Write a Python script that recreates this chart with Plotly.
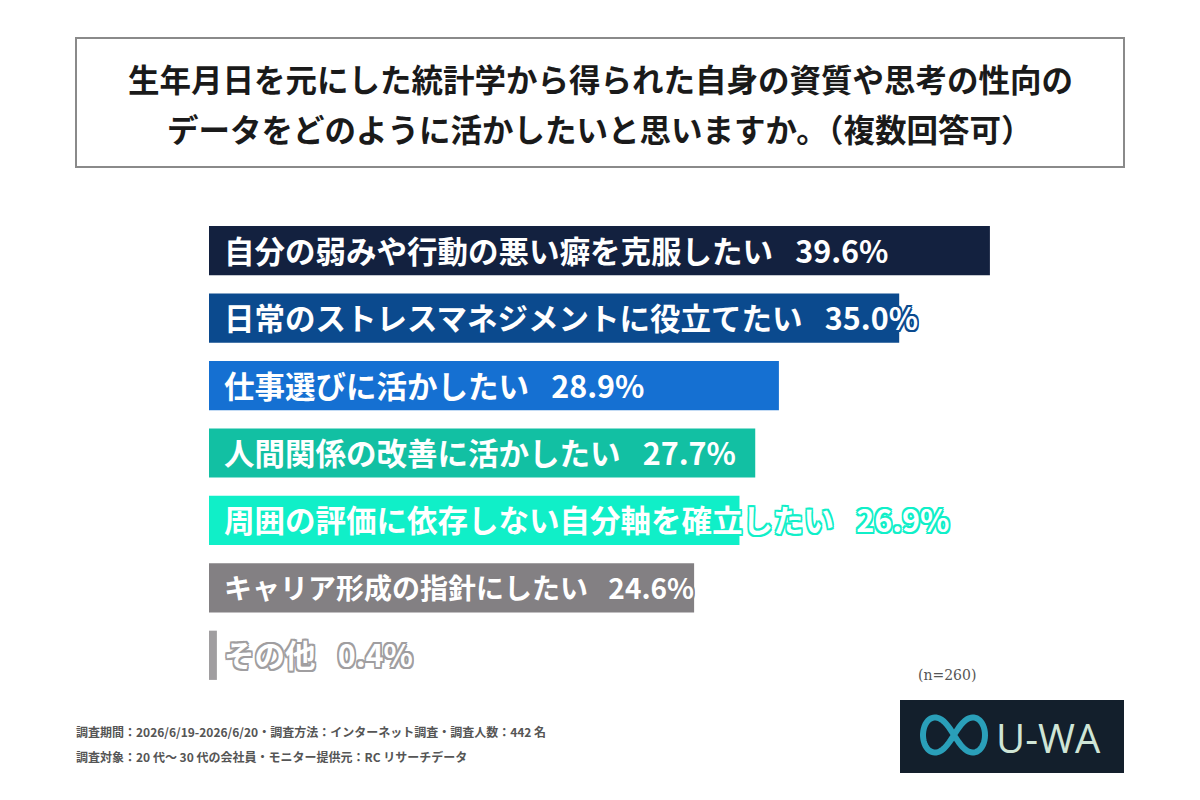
import numpy as np
import plotly.graph_objects as go

W, H = 1200, 800

# ---- data ----
categories = [
    "自分の弱みや行動の悪い癖を克服したい",
    "日常のストレスマネジメントに役立てたい",
    "仕事選びに活かしたい",
    "人間関係の改善に活かしたい",
    "周囲の評価に依存しない自分軸を確立したい",
    "キャリア形成の指針にしたい",
    "その他",
]
values = [39.6, 35.0, 28.9, 27.7, 26.9, 24.6, 0.4]
bar_colors = ["#13213f", "#0b4a8e", "#1570d2", "#12c0a3", "#10efc8", "#838083", "#a09ea0"]
label_sizes = [30.5, 30.5, 30.5, 30.5, 30.5, 28, 30.5]

title_lines = [
    "生年月日を元にした統計学から得られた自身の資質や思考の性向の",
    "データをどのように活かしたいと思いますか。（複数回答可）",
]
footer_lines = [
    "調査期間：2026/6/19-2026/6/20・調査方法：インターネット調査・調査人数：442 名",
    "調査対象：20 代～ 30 代の会社員・モニター提供元：RC リサーチデータ",
]
n_label = "(n=260)"
logo_text = "U-WA"

# ---- layout geometry (pixels) ----
px_per_pct = 19.72
x_left, x_right = 209, 1129
y_top, y_bottom = 217, 689

def px(x):
    return x / W

def py(y):
    return 1 - y / H

FONT = "Noto Sans CJK JP, Noto Sans, sans-serif"

fig = go.Figure()
fig.add_trace(go.Bar(
    x=values,
    y=categories,
    orientation="h",
    marker=dict(color=bar_colors, line=dict(width=0)),
    hoverinfo="skip",
    showlegend=False,
))

annotations = []
# bar labels (white text outlined with bar colour)
for cat, v, c, s in zip(categories, values, bar_colors, label_sizes):
    o = 1.6
    shadow = ", ".join(
        f"{dx}px {dy}px 0 {c}" for dx, dy in
        [(-o, 0), (o, 0), (0, -o), (0, o), (-o, -o), (o, o), (-o, o), (o, -o)]
    )
    annotations.append(dict(
        x=0, y=cat, xref="x", yref="y",
        text=f"{cat}\u2002 {v:.1f}%",
        xanchor="left", yanchor="middle", xshift=13, yshift=1,
        showarrow=False,
        font=dict(family=FONT, size=s, color="#ffffff", weight=700, shadow=shadow),
    ))

# title
for i, line in enumerate(title_lines):
    annotations.append(dict(
        x=0.5, y=py(78 + 50 * i), xref="paper", yref="paper",
        text=line, xanchor="center", yanchor="middle", showarrow=False,
        font=dict(family=FONT, size=31.5, color="#1a1a1a", weight=700),
    ))

# footer
for i, line in enumerate(footer_lines):
    annotations.append(dict(
        x=px(74), y=py(731 + 25 * i), xref="paper", yref="paper",
        text=line, xanchor="left", yanchor="middle", showarrow=False,
        font=dict(family=FONT, size=12, color="#555555", weight=700),
    ))

annotations.append(dict(
    x=px(947), y=py(675), xref="paper", yref="paper",
    text=n_label, xanchor="center", yanchor="middle", showarrow=False,
    font=dict(family="DejaVu Serif, serif", size=14, color="#555555"),
))

annotations.append(dict(
    x=px(1048), y=py(737), xref="paper", yref="paper",
    text=logo_text, xanchor="center", yanchor="middle", showarrow=False,
    font=dict(family="Open Sans, sans-serif", size=40, color="#cfe5d6", weight=500),
))

shapes = []
# title box
shapes.append(dict(
    type="rect", xref="paper", yref="paper",
    x0=px(76), x1=px(1124), y0=py(38), y1=py(167),
    line=dict(color="#8a8a8a", width=2), fillcolor="rgba(0,0,0,0)", layer="below",
))
# logo background
shapes.append(dict(
    type="rect", xref="paper", yref="paper",
    x0=px(900), x1=px(1124), y0=py(700), y1=py(773),
    line=dict(width=0), fillcolor="#131f2c", layer="above",
))
# infinity symbol (decorative logo)
t = np.linspace(0, 2 * np.pi, 120)
cx, cy, a = 954, 735, 31
lx = cx + a * np.cos(t) / (1 + np.sin(t) ** 2)
ly = cy + 1.6 * a * np.sin(t) * np.cos(t) / (1 + np.sin(t) ** 2)
path = "M " + " L ".join(f"{px(xx):.5f},{py(yy):.5f}" for xx, yy in zip(lx, ly)) + " Z"
shapes.append(dict(
    type="path", xref="paper", yref="paper", path=path,
    line=dict(color="#2a9fb9", width=6), layer="above",
))

fig.update_layout(
    width=W, height=H,
    margin=dict(l=0, r=0, t=0, b=0),
    paper_bgcolor="#ffffff", plot_bgcolor="#ffffff",
    bargap=0.27,
    xaxis=dict(domain=[px(x_left), px(x_right)],
               range=[0, (x_right - x_left) / px_per_pct],
               visible=False, fixedrange=True),
    yaxis=dict(domain=[py(y_bottom), py(y_top)],
               type="category",
               range=[len(categories) - 0.5, -0.5],
               visible=False, fixedrange=True),
    annotations=annotations,
    shapes=shapes,
    showlegend=False,
)

fig.write_html("out.html")
